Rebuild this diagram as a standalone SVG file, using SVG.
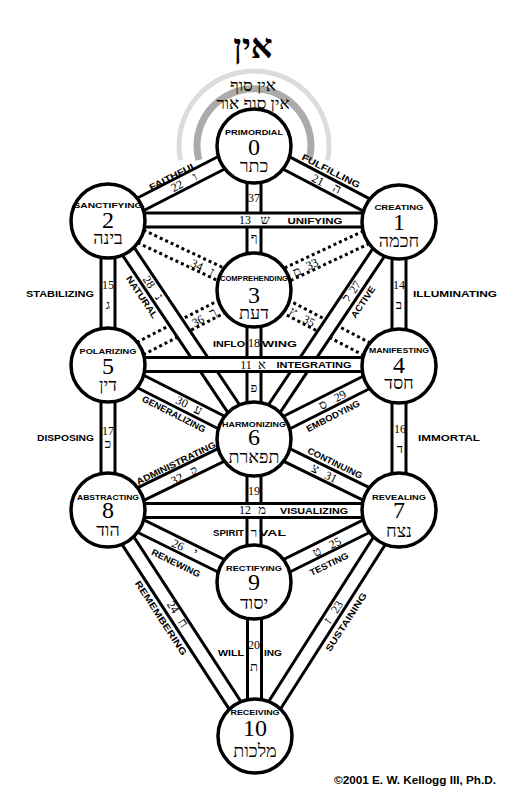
<svg xmlns="http://www.w3.org/2000/svg" width="509" height="800" viewBox="0 0 509 800">
<style>
.cb{fill:none;stroke:#000;stroke-width:17}
.cw{fill:none;stroke:#fff;stroke-width:11}
.dt{fill:none;stroke:#000;stroke-width:3;stroke-dasharray:3 3}
.nc{fill:#fff;stroke:#000;stroke-width:3.5}
.nl{font-family:"Liberation Sans",Arial,sans-serif;font-weight:bold;font-size:8px;text-anchor:middle}
.nd{font-family:"Liberation Serif","Times New Roman",serif;font-size:24px;text-anchor:middle}
.nh{font-family:"Liberation Serif","DejaVu Sans",serif;font-size:18px;text-anchor:middle}
.pn{font-family:"Liberation Serif","Times New Roman",serif;font-size:12px;text-anchor:middle}
.pl{font-family:"Liberation Serif","DejaVu Sans",serif;font-size:13px;text-anchor:middle}
.pw{font-family:"Liberation Sans",Arial,sans-serif;font-weight:bold;font-size:9px;text-anchor:middle}
.ht{font-family:"Liberation Serif","DejaVu Sans",serif;text-anchor:middle}
</style>
<defs>
<path id="p21" d="M254 146L399 222"/>
<path id="p22" d="M254 146L108 221"/>
<path id="p37" d="M254 146V290"/>
<path id="p15" d="M108 221V365"/>
<path id="p14" d="M399 222V366"/>
<path id="p18" d="M254 290V439"/>
<path id="p28" d="M108 221L254 439"/>
<path id="p27" d="M399 222L254 439"/>
<path id="p30" d="M108 365L254 439"/>
<path id="p29" d="M399 366L254 439"/>
<path id="p17" d="M108 365V510"/>
<path id="p16" d="M399 366V510"/>
<path id="p31" d="M254 439L399 510"/>
<path id="p32" d="M254 439L108 510"/>
<path id="p19" d="M254 439V582"/>
<path id="p26" d="M108 510L254 582"/>
<path id="p25" d="M399 510L254 582"/>
<path id="p24" d="M108 510L255 736"/>
<path id="p23" d="M399 510L255 736"/>
<path id="p20" d="M254.5 582V736"/>
<path id="p13" d="M108 220H399"/>
<path id="p11" d="M108 364.5H399"/>
<path id="p12" d="M108 510.5H399"/>
</defs>
<rect width="509" height="800" fill="#fff"/>
<g id="ein-sof">
<path d="M180.4 160.3A75 75 0 1 1 327.6 160.3" fill="none" stroke="#dcdcdc" stroke-width="5"/>
<path d="M198.8 160A57 57 0 1 1 309.2 160" fill="none" stroke="#ababab" stroke-width="7"/>
<text class="ht" x="253" y="58" font-size="34" font-weight="bold">אין</text>
<text class="ht" x="253" y="91" font-size="17">אין סוף</text>
<text class="ht" x="253" y="109" font-size="17">אין סוף אור</text>
</g>
<g id="connectors">
<line class="dt" x1="105" y1="227.3" x2="251" y2="296.3"/>
<line class="dt" x1="111" y1="214.7" x2="257" y2="283.7"/>
<line class="dt" x1="402" y1="228.3" x2="257" y2="296.3"/>
<line class="dt" x1="396" y1="215.7" x2="251" y2="283.7"/>
<line class="dt" x1="111.2" y1="371.2" x2="257.2" y2="296.2"/>
<line class="dt" x1="104.8" y1="358.8" x2="250.8" y2="283.8"/>
<line class="dt" x1="402.3" y1="359.8" x2="257.3" y2="283.8"/>
<line class="dt" x1="395.8" y1="372.2" x2="250.8" y2="296.2"/>
<use href="#p21" class="cb"/><use href="#p21" class="cw"/>
<use href="#p22" class="cb"/><use href="#p22" class="cw"/>
<use href="#p37" class="cb"/><use href="#p37" class="cw"/>
<use href="#p15" class="cb"/><use href="#p15" class="cw"/>
<use href="#p14" class="cb"/><use href="#p14" class="cw"/>
<use href="#p18" class="cb"/><use href="#p18" class="cw"/>
<use href="#p28" class="cb"/><use href="#p28" class="cw"/>
<use href="#p27" class="cb"/><use href="#p27" class="cw"/>
<use href="#p30" class="cb"/><use href="#p30" class="cw"/>
<use href="#p29" class="cb"/><use href="#p29" class="cw"/>
<use href="#p17" class="cb"/><use href="#p17" class="cw"/>
<use href="#p16" class="cb"/><use href="#p16" class="cw"/>
<use href="#p31" class="cb"/><use href="#p31" class="cw"/>
<use href="#p32" class="cb"/><use href="#p32" class="cw"/>
<use href="#p19" class="cb"/><use href="#p19" class="cw"/>
<use href="#p26" class="cb"/><use href="#p26" class="cw"/>
<use href="#p25" class="cb"/><use href="#p25" class="cw"/>
<use href="#p24" class="cb"/><use href="#p24" class="cw"/>
<use href="#p23" class="cb"/><use href="#p23" class="cw"/>
<use href="#p20" class="cb"/><use href="#p20" class="cw"/>
<use href="#p13" class="cb"/><use href="#p13" class="cw"/>
<use href="#p11" class="cb"/><use href="#p11" class="cw"/>
<use href="#p12" class="cb"/><use href="#p12" class="cw"/>
</g>
<g id="path-labels">
<text class="pn" x="254" y="202">37</text>
<text class="pl" x="254" y="242">ף</text>
<text class="pn" x="245" y="224">13</text>
<text class="pl" x="265" y="224">ש</text>
<text class="pw" x="315" y="223.5" textLength="55" lengthAdjust="spacingAndGlyphs">UNIFYING</text>
<text class="pn" x="108" y="289">15</text>
<text class="pl" x="108" y="309">ג</text>
<text class="pn" x="399" y="289">14</text>
<text class="pl" x="399" y="309">ב</text>
<text class="pw" x="60" y="297" textLength="68" lengthAdjust="spacingAndGlyphs">STABILIZING</text>
<text class="pw" x="455" y="297" textLength="84" lengthAdjust="spacingAndGlyphs">ILLUMINATING</text>
<text class="pw" x="245" y="347" style="text-anchor:end" textLength="32" lengthAdjust="spacingAndGlyphs">INFLO</text>
<text class="pn" x="254" y="347">18</text>
<text class="pw" x="262" y="347" style="text-anchor:start" textLength="35" lengthAdjust="spacingAndGlyphs">WING</text>
<text class="pn" x="246" y="369">11</text>
<text class="pl" x="262" y="369">א</text>
<text class="pw" x="314" y="368" textLength="75" lengthAdjust="spacingAndGlyphs">INTEGRATING</text>
<text class="pl" x="254" y="392">פ</text>
<text class="pn" x="108" y="435">17</text>
<text class="pl" x="108" y="448">כ</text>
<text class="pn" x="400" y="433">16</text>
<text class="pl" x="400" y="453">ד</text>
<text class="pw" x="65.5" y="441" textLength="57" lengthAdjust="spacingAndGlyphs">DISPOSING</text>
<text class="pw" x="449" y="441" textLength="62" lengthAdjust="spacingAndGlyphs">IMMORTAL</text>
<text class="pn" x="254" y="495">19</text>
<text class="pn" x="245" y="514">12</text>
<text class="pl" x="262" y="514">מ</text>
<text class="pw" x="314" y="513.5" textLength="68" lengthAdjust="spacingAndGlyphs">VISUALIZING</text>
<text class="pw" x="244" y="536" style="text-anchor:end" textLength="31" lengthAdjust="spacingAndGlyphs">SPIRIT</text>
<text class="pl" x="254" y="537">ר</text>
<text class="pw" x="259" y="536" style="text-anchor:start" textLength="27" lengthAdjust="spacingAndGlyphs">VAL</text>
<text class="pn" x="254" y="649">20</text>
<text class="pl" x="254" y="671">ת</text>
<text class="pw" x="244" y="656" style="text-anchor:end" textLength="26" lengthAdjust="spacingAndGlyphs">WILL</text>
<text class="pw" x="264" y="656" style="text-anchor:start" textLength="18" lengthAdjust="spacingAndGlyphs">ING</text>
<text class="pw" transform="translate(173 176) rotate(-27)" y="3.2" textLength="52" lengthAdjust="spacingAndGlyphs">FAITHFUL</text>
<text class="pn" transform="translate(177 186) rotate(-27)" y="4">22</text>
<text class="pl" transform="translate(195 177) rotate(-27)" y="4">ו</text>
<text class="pw" transform="translate(331 171) rotate(27)" y="3.2" textLength="64" lengthAdjust="spacingAndGlyphs">FULFILLING</text>
<text class="pn" transform="translate(318 180) rotate(27)" y="4">21</text>
<text class="pl" transform="translate(337 189) rotate(27)" y="4">ה</text>
<text class="pw" transform="translate(142 297) rotate(56)" y="3.2" textLength="49" lengthAdjust="spacingAndGlyphs">NATURAL</text>
<text class="pn" transform="translate(149 282) rotate(56)" y="4">28</text>
<text class="pl" transform="translate(159 297) rotate(56)" y="4">נ</text>
<text class="pw" transform="translate(363 302) rotate(-56)" y="3.2" textLength="36" lengthAdjust="spacingAndGlyphs">ACTIVE</text>
<text class="pn" transform="translate(355 287) rotate(-56)" y="4">27</text>
<text class="pl" transform="translate(347 298) rotate(-56)" y="4">ל</text>
<text class="pw" transform="translate(174 414) rotate(27)" y="3.2" textLength="70" lengthAdjust="spacingAndGlyphs">GENERALIZING</text>
<text class="pn" transform="translate(182 402) rotate(27)" y="4">30</text>
<text class="pl" transform="translate(198 410) rotate(27)" y="4">ע</text>
<text class="pw" transform="translate(333 416) rotate(-27)" y="3.2" textLength="59" lengthAdjust="spacingAndGlyphs">EMBODYING</text>
<text class="pn" transform="translate(340 396) rotate(-27)" y="4">29</text>
<text class="pl" transform="translate(323 405) rotate(-27)" y="4">ס</text>
<text class="pw" transform="translate(335 463) rotate(26)" y="3.2" textLength="60" lengthAdjust="spacingAndGlyphs">CONTINUING</text>
<text class="pl" transform="translate(315 469) rotate(26)" y="4">צ</text>
<text class="pn" transform="translate(331 477) rotate(26)" y="4">31</text>
<text class="pw" transform="translate(176 463) rotate(-26)" y="3.2" textLength="87" lengthAdjust="spacingAndGlyphs">ADMINISTRATING</text>
<text class="pn" transform="translate(177 479) rotate(-26)" y="4">32</text>
<text class="pl" transform="translate(194 471) rotate(-26)" y="4">ק</text>
<text class="pw" transform="translate(176 563) rotate(26)" y="3.2" textLength="53" lengthAdjust="spacingAndGlyphs">RENEWING</text>
<text class="pn" transform="translate(178 545) rotate(26)" y="4">26</text>
<text class="pl" transform="translate(195 553) rotate(26)" y="4">י</text>
<text class="pw" transform="translate(329 564) rotate(-26)" y="3.2" textLength="42" lengthAdjust="spacingAndGlyphs">TESTING</text>
<text class="pl" transform="translate(317 552) rotate(-26)" y="4">ט</text>
<text class="pn" transform="translate(335 543) rotate(-26)" y="4">25</text>
<text class="pw" transform="translate(161 618) rotate(57)" y="3.2" textLength="87" lengthAdjust="spacingAndGlyphs">REMEMBERING</text>
<text class="pn" transform="translate(173 607) rotate(57)" y="4">24</text>
<text class="pl" transform="translate(183 623) rotate(57)" y="4">ח</text>
<text class="pw" transform="translate(346 622) rotate(-57)" y="3.2" textLength="68" lengthAdjust="spacingAndGlyphs">SUSTAINING</text>
<text class="pl" transform="translate(328 621) rotate(-57)" y="4">ז</text>
<text class="pn" transform="translate(337 607) rotate(-57)" y="4">23</text>
<text class="pn" transform="translate(197 265) rotate(25)" y="4">34</text>
<text class="pl" transform="translate(212 272) rotate(25)" y="4">ן</text>
<text class="pl" transform="translate(297 272) rotate(-25)" y="4">ם</text>
<text class="pn" transform="translate(312 264) rotate(-25)" y="4">33</text>
<text class="pn" transform="translate(198 321) rotate(-27)" y="4">36</text>
<text class="pl" transform="translate(213 313) rotate(-27)" y="4">ך</text>
<text class="pl" transform="translate(293 312) rotate(28)" y="4">ץ</text>
<text class="pn" transform="translate(309 321) rotate(28)" y="4">35</text>
</g>
<g id="n0"><circle class="nc" cx="254" cy="146" r="37"/><text class="nl" x="254" y="135" textLength="58" lengthAdjust="spacingAndGlyphs">PRIMORDIAL</text><text class="nd" x="254" y="155">0</text><text class="nh" x="254" y="172">כתר</text></g>
<g id="n1"><circle class="nc" cx="399" cy="222" r="37"/><text class="nl" x="399" y="210" textLength="49" lengthAdjust="spacingAndGlyphs">CREATING</text><text class="nd" x="399" y="230">1</text><text class="nh" x="399" y="247">חכמה</text></g>
<g id="n2"><circle class="nc" cx="108" cy="221" r="37"/><text class="nl" x="108" y="208" textLength="69" lengthAdjust="spacingAndGlyphs">SANCTIFYING</text><text class="nd" x="108" y="228">2</text><text class="nh" x="108" y="244">בינה</text></g>
<g id="n3"><circle class="nc" cx="254" cy="290" r="37"/><text class="nl" x="254" y="281" textLength="68" lengthAdjust="spacingAndGlyphs">COMPREHENDING</text><text class="nd" x="254" y="303">3</text><text class="nh" x="254" y="319">דעת</text></g>
<g id="n4"><circle class="nc" cx="399" cy="366" r="37"/><text class="nl" x="399" y="353" textLength="60" lengthAdjust="spacingAndGlyphs">MANIFESTING</text><text class="nd" x="399" y="373">4</text><text class="nh" x="399" y="389">חסד</text></g>
<g id="n5"><circle class="nc" cx="108" cy="365" r="37"/><text class="nl" x="108" y="354" textLength="57" lengthAdjust="spacingAndGlyphs">POLARIZING</text><text class="nd" x="108" y="374">5</text><text class="nh" x="108" y="391">דין</text></g>
<g id="n6"><circle class="nc" cx="254" cy="439" r="37"/><text class="nl" x="254" y="427" textLength="64" lengthAdjust="spacingAndGlyphs">HARMONIZING</text><text class="nd" x="254" y="445">6</text><text class="nh" x="254" y="463">תפארת</text></g>
<g id="n7"><circle class="nc" cx="399" cy="510" r="37"/><text class="nl" x="399" y="500" textLength="54" lengthAdjust="spacingAndGlyphs">REVEALING</text><text class="nd" x="399" y="518">7</text><text class="nh" x="399" y="537">נצח</text></g>
<g id="n8"><circle class="nc" cx="108" cy="510" r="37"/><text class="nl" x="108" y="500" textLength="62" lengthAdjust="spacingAndGlyphs">ABSTRACTING</text><text class="nd" x="108" y="518">8</text><text class="nh" x="108" y="536">הוד</text></g>
<g id="n9"><circle class="nc" cx="254" cy="582" r="37"/><text class="nl" x="254" y="571" textLength="56" lengthAdjust="spacingAndGlyphs">RECTIFYING</text><text class="nd" x="254" y="590">9</text><text class="nh" x="254" y="609">יסוד</text></g>
<g id="n10"><circle class="nc" cx="255" cy="736" r="37"/><text class="nl" x="255" y="715" textLength="49" lengthAdjust="spacingAndGlyphs">RECEIVING</text><text class="nd" x="255" y="736">10</text><text class="nh" x="255" y="757">מלכות</text></g>
<text x="334" y="784" font-family="Liberation Sans, Arial, sans-serif" font-weight="bold" font-size="10" textLength="162" lengthAdjust="spacingAndGlyphs">©2001 E. W. Kellogg III, Ph.D.</text>
</svg>
